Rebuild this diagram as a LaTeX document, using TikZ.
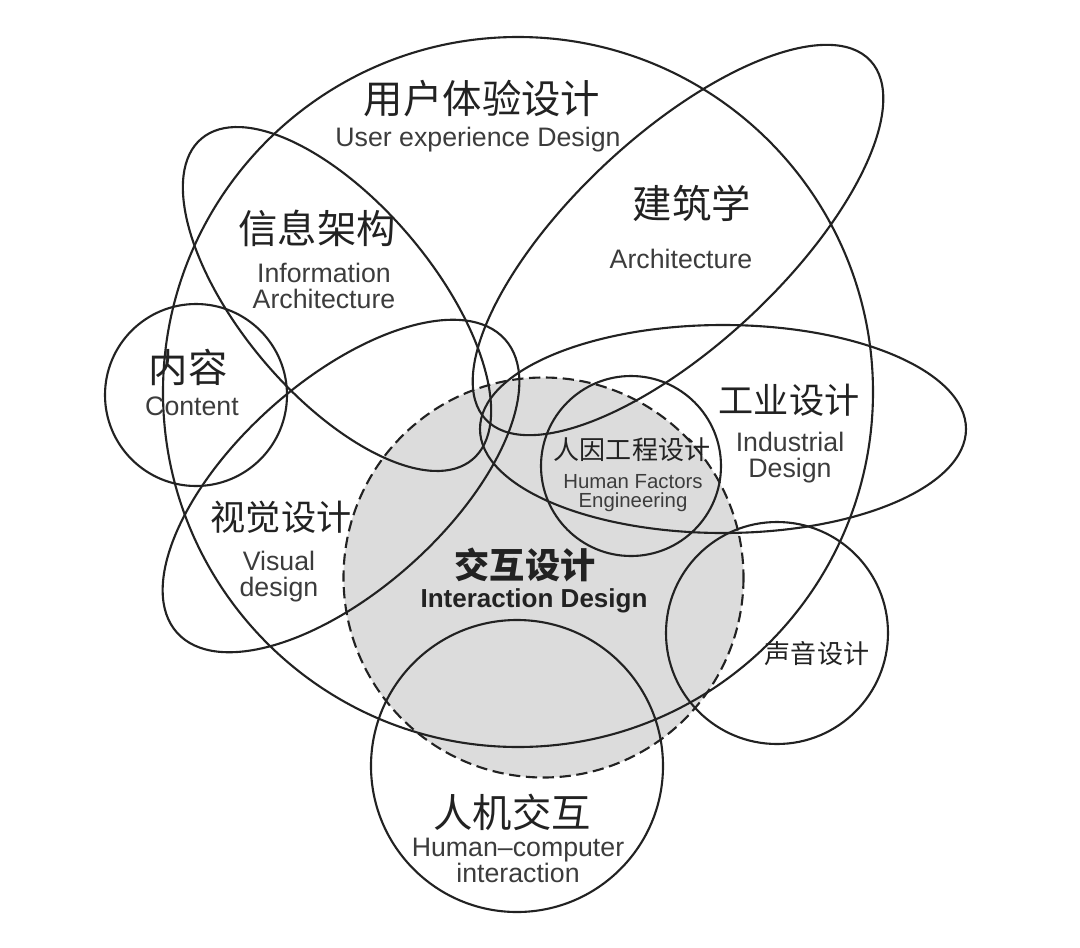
\documentclass[tikz,border=0pt]{standalone}
\usepackage{fontspec}
\setmainfont{Liberation Sans}
\newfontfamily\cjk{Noto Sans CJK SC}
\usepackage{tikz}
\definecolor{ink}{HTML}{222222}
\definecolor{label-gray}{HTML}{3C3C3C}
\definecolor{ixd-gray}{HTML}{DCDCDC}

\begin{document}
\begin{tikzpicture}[
    x=0.025cm, y=-0.025cm,
    ring/.style={draw=ink, line width=1.5pt},
    zh/.style={font=\cjk\fontsize{28}{30}\selectfont, text=ink, inner sep=0pt},
    zhmid/.style={font=\cjk\fontsize{25}{27}\selectfont, text=ink, inner sep=0pt},
    zhsmall/.style={font=\cjk\fontsize{18.5}{20}\selectfont, text=ink, inner sep=0pt},
    en/.style={font=\fontsize{19}{18.5}\selectfont, text=label-gray, align=center, inner sep=0pt},
    ensmall/.style={font=\fontsize{14.5}{14}\selectfont, text=label-gray, align=center, inner sep=0pt}
]
    \useasboundingbox[fill=white] (0,0) rectangle (1080,948);

    % Interaction Design area
    \fill[ixd-gray] (543.5,577.5) circle [radius=200];

    % Outlines
    \draw[ring] (518,392) circle [radius=355];
    \draw[ring] (337,299) circle [x radius=210, y radius=96, rotate=-49.8];
    \draw[ring] (678,240) circle [x radius=263, y radius=105, rotate=43];
    \draw[ring] (341,486) circle [x radius=220, y radius=105, rotate=41.8];
    \draw[ring] (196,395) circle [radius=91];
    \draw[ring] (723,429) circle [x radius=243, y radius=104];
    \draw[ring] (631,466) circle [radius=90];
    \draw[ring] (777,633) circle [radius=111];
    \draw[ring] (517,766) circle [radius=146];
    \draw[ring, dash pattern=on 8pt off 4pt] (543.5,577.5) circle [radius=200];

    % Labels
    \node (ux-zh) [zh] at (482,99) {用户体验设计};
    \node (ux-en) [en] at (478,140) {User experience Design};
    \node (ia-zh) [zh] at (317,228) {信息架构};
    \node (ia-en) [en] at (324,286) {Information\\Architecture};
    \node (arch-zh) [zh] at (692,203) {建筑学};
    \node (arch-en) [en] at (681,259) {Architecture};
    \node (content-zh) [zh] at (188,367) {内容};
    \node (content-en) [en] at (192,406) {Content};
    \node (vis-zh) [zhmid] at (281,517) {视觉设计};
    \node (vis-en) [en] at (279,577) {Visual\\design};
    \node (ind-zh) [zhmid] at (789,400) {工业设计};
    \node (ind-en) [en] at (790,458) {Industrial\\Design};
    \node (hf-zh) [zhsmall] at (632,450) {人因工程设计};
    \node (hf-en) [ensmall] at (633,493) {Human Factors\\Engineering};
    \node (ixd-zh) [zhmid, font=\cjk\bfseries\fontsize{25}{27}\selectfont] at (525,565) {交互设计};
    \node (ixd-en) [en, font=\bfseries\fontsize{18.5}{18}\selectfont, text=ink] at (534,601) {Interaction Design};
    \node (sound-zh) [zhsmall] at (817,654) {声音设计};
    \node (hci-zh) [zh] at (512,812) {人机交互};
    \node (hci-en) [en] at (518,860) {Human--computer\\interaction};
\end{tikzpicture}
\end{document}
